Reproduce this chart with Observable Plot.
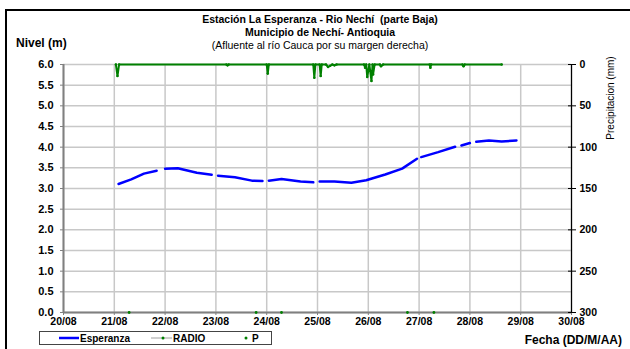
<!DOCTYPE html>
<html>
<head>
<meta charset="utf-8">
<script src="https://cdn.jsdelivr.net/npm/d3@7"></script>
<script src="https://cdn.jsdelivr.net/npm/@observablehq/plot@0.6"></script>
<style>
  html, body { margin: 0; padding: 0; background: #fff; width: 630px; height: 349px; overflow: hidden; }
  body { position: relative; font-family: "Liberation Sans", Arial, sans-serif; }
  #frame { position: absolute; left: 5px; top: 9px; width: 700px; height: 400px; border: 2.5px solid #000; }
  .t { position: absolute; white-space: nowrap; color: #000; }
  #chart { position: absolute; left: 0; top: 0; }
  #legend { position: absolute; left: 39px; top: 331px; width: 231px; height: 12px; border: 1px solid #444; background: #fff; }
</style>
</head>
<body>
<div id="frame"></div>
<div id="chart"></div>
<div class="t" style="left:320px; top:13px; transform:translateX(-50%); font-size:10.5px; font-weight:bold;">Estación La Esperanza - Rio Nechí&nbsp; (parte Baja)</div>
<div class="t" style="left:320px; top:26px; transform:translateX(-50%); font-size:10.5px; font-weight:bold;">Municipio de Nechí- Antioquia</div>
<div class="t" style="left:320px; top:39px; transform:translateX(-50%); font-size:10.5px;">(Afluente al río Cauca por su margen derecha)</div>
<div class="t" style="left:16px; top:36px; font-size:12px; font-weight:bold;">Nivel (m)</div>
<div class="t" style="left:610px; top:98px; transform:translate(-50%,-50%) rotate(-90deg); font-size:10px;">Precipitacion (mm)</div>
<div class="t" style="right:8px; top:333px; font-size:12px; font-weight:bold;">Fecha (DD/M/AA)</div>
<div id="legend"></div>
<script>
// ---------- data ----------
const dayTicks = ["2008-08-20","2008-08-21","2008-08-22","2008-08-23","2008-08-24","2008-08-25","2008-08-26","2008-08-27","2008-08-28","2008-08-29","2008-08-30"];
const levelTicks = [0,0.5,1,1.5,2,2.5,3,3.5,4,4.5,5,5.5,6];
const precipTicks = [0,50,100,150,200,250,300];

// Esperanza (nivel, m) — null = missing reading
const levelTimes = [
  "2008-08-21T02:00","2008-08-21T08:00","2008-08-21T14:00","2008-08-21T20:00","2008-08-21T22:00",
  "2008-08-22T00:00","2008-08-22T06:00","2008-08-22T15:00","2008-08-22T22:00","2008-08-23T00:00",
  "2008-08-23T01:00","2008-08-23T09:00","2008-08-23T17:00","2008-08-23T22:00","2008-08-23T23:30",
  "2008-08-24T01:00","2008-08-24T07:00","2008-08-24T16:00","2008-08-24T22:00","2008-08-24T23:30",
  "2008-08-25T01:00","2008-08-25T08:00","2008-08-25T16:00","2008-08-25T23:00","2008-08-26T08:00",
  "2008-08-26T16:00","2008-08-26T23:00","2008-08-27T00:00","2008-08-27T01:00","2008-08-27T09:00",
  "2008-08-27T17:00","2008-08-27T18:00","2008-08-27T20:00","2008-08-28T00:00","2008-08-28T01:00",
  "2008-08-28T03:00","2008-08-28T09:00","2008-08-28T15:00","2008-08-28T22:00"
];
const levelValues = [
  3.11,3.22,3.36,3.43,null,
  3.48,3.49,3.38,3.33,null,
  3.31,3.27,3.19,3.18,null,
  3.19,3.23,3.17,3.15,null,
  3.17,3.17,3.14,3.20,3.34,
  3.48,3.72,null,3.76,3.88,
  4.01,null,4.04,4.10,null,
  4.13,4.16,4.14,4.16
];

// RADIO (precipitación, mm)
const radioTimes = [
  "2008-08-21T00:45","2008-08-21T01:30","2008-08-21T02:15",
  "2008-08-23T05:00","2008-08-23T05:30","2008-08-23T06:00",
  "2008-08-24T00:00","2008-08-24T00:30","2008-08-24T01:00",
  "2008-08-24T22:00","2008-08-24T22:30","2008-08-24T23:00",
  "2008-08-25T01:00","2008-08-25T01:30","2008-08-25T02:00",
  "2008-08-25T04:00","2008-08-25T05:00","2008-08-25T06:00","2008-08-25T07:00","2008-08-25T08:00","2008-08-25T09:00",
  "2008-08-25T22:00","2008-08-25T22:30","2008-08-25T23:00","2008-08-25T23:30","2008-08-26T00:30",
  "2008-08-26T01:30","2008-08-26T02:00","2008-08-26T02:15","2008-08-26T03:00",
  "2008-08-26T05:30","2008-08-26T06:00","2008-08-26T07:00",
  "2008-08-27T05:00","2008-08-27T05:20","2008-08-27T05:40",
  "2008-08-27T20:30","2008-08-27T21:00","2008-08-27T21:30",
  "2008-08-28T15:00"
];
const radioValues = [
  0,14,0,
  0,1,0,
  0,11,0,
  0,16,0,
  0,14,0,
  0,3,1.5,0,1,0,
  0,4,0,15,0,
  20,0,12,0,
  0,2,0,
  0,4,0,
  0,2,0,
  0
];

// P (puntos en el eje)
const pTimes = ["2008-08-21T07:00","2008-08-23T19:00","2008-08-24T07:00","2008-08-26T18:30","2008-08-27T07:00"];
const pValues = [0,0,0,0,0];

// ---------- build ----------
const parse = s => new Date(s + (s.length > 10 ? "Z" : "T00:00Z"));
const days = dayTicks.map(parse);
const level = levelTimes.map((t, i) => ({t: parse(t), v: levelValues[i]}));
const radio = radioTimes.map((t, i) => ({t: parse(t), mm: radioValues[i]}));
const pts = pTimes.map((t, i) => ({t: parse(t), v: pValues[i]}));
const mmToLevel = mm => 6 - mm / 50;
const levelToMm = v => Math.round((6 - v) * 50);

const chart = Plot.plot({
  width: 630, height: 349,
  marginLeft: 63, marginRight: 59, marginTop: 64, marginBottom: 37,
  style: {fontFamily: '"Liberation Sans", Arial, sans-serif', fontSize: "10px", fontWeight: "bold", background: "transparent", overflow: "visible"},
  x: {type: "utc", domain: [days[0], days[days.length - 1]]},
  y: {domain: [0, 6]},
  marks: [
    Plot.gridX(days, {stroke: "#c8c8c8", strokeOpacity: 1, strokeWidth: 1.5}),
    Plot.gridY(levelTicks, {stroke: "#c8c8c8", strokeOpacity: 1, strokeWidth: 1.5}),
    Plot.ruleY([0], {stroke: "#808080", strokeWidth: 2}),
    Plot.ruleX([days[0]], {stroke: "#808080", strokeWidth: 2}),
    Plot.ruleX([days[days.length - 1]], {stroke: "#000", strokeWidth: 1.2}),
    Plot.axisX({ticks: days, tickFormat: d3.utcFormat("%d/%m"), tickSize: 3, tickPadding: 2, stroke: "#808080", label: null, fontSize: 10.5}),
    Plot.axisY({anchor: "left", ticks: levelTicks, tickFormat: d3.format(".1f"), tickSize: 3, tickPadding: 7, stroke: "#808080", label: null, fontSize: 11}),
    Plot.axisY({anchor: "right", ticks: precipTicks.map(mmToLevel), tickFormat: levelToMm, tickSize: 8, insetRight: 4, tickPadding: 4, stroke: "#000", label: null, fontSize: 10.5}),
    Plot.line(radio, {x: "t", y: d => mmToLevel(d.mm), stroke: "#008000", strokeWidth: 2}),
    Plot.dot(radio, {x: "t", y: d => mmToLevel(d.mm), r: 1.3, fill: "#008000"}),
    Plot.line(level, {x: "t", y: "v", stroke: "#0000ff", strokeWidth: 2.5}),
    Plot.dot(pts, {x: "t", y: "v", r: 1.4, fill: "#008000"})
  ]
});
document.getElementById("chart").appendChild(chart);

// legend
const legend = document.getElementById("legend");
legend.innerHTML = `
<svg width="231" height="12" style="position:absolute;left:0;top:0;">
  <line x1="19" x2="39" y1="6" y2="6" stroke="#0000ff" stroke-width="2.5"/>
  <line x1="111" x2="132" y1="6" y2="6" stroke="#a0a0a0" stroke-width="1"/>
  <circle cx="123" cy="6" r="1.5" fill="#008000"/>
  <circle cx="206" cy="6" r="1.5" fill="#008000"/>
  <text x="40" y="10" font-size="10" font-weight="bold" font-family="Liberation Sans, Arial">Esperanza</text>
  <text x="133" y="10" font-size="10" font-weight="bold" font-family="Liberation Sans, Arial">RADIO</text>
  <text x="212" y="10" font-size="10" font-weight="bold" font-family="Liberation Sans, Arial">P</text>
</svg>`;
</script>
</body>
</html>
